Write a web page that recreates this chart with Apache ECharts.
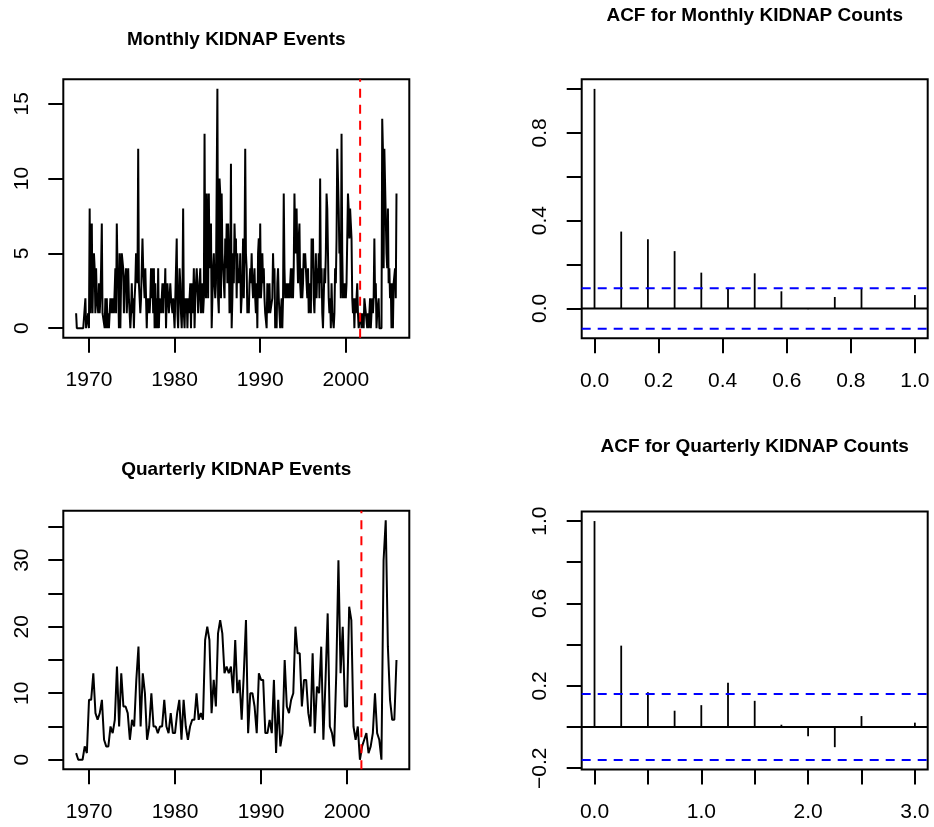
<!DOCTYPE html>
<html><head><meta charset="utf-8">
<script src="https://cdn.jsdelivr.net/npm/echarts@6/dist/echarts.min.js"></script>
<style>html,body{margin:0;padding:0;background:#fff}#c{width:934px;height:827px}</style>
</head><body><div id="c"></div>
<script>
// Monthly KIDNAP counts, Jul 1968 .. Dec 2005 (450 months)
const monthlyCounts = [
1,0,0, 0,0,0, 0,0,0, 0,0,0, 0,2,0, 0,0,1, 0,8,1, 1,7,1, 4,5,4, 1,4,2,
2,1,3, 1,2,4, 7,1,1, 1,0,2, 0,2,0, 1,0,1, 2,1,2, 1,2,1, 1,4,1, 7,4,3,
0,5,0, 3,5,5, 4,1,3, 3,4,1, 1,4,2, 2,0,1, 3,1,2, 0,2,3, 5,4,3, 12,3,2,
1,2,2, 6,4,3, 2,4,4, 0,2,1, 2,1,2, 4,2,4, 1,4,0, 3,0,2, 0,4,0, 2,2,1,
1,3,1, 3,2,4, 0,2,3, 2,1,1, 3,2,2, 1,2,1, 0,2,2, 6,1,0, 2,4,3, 1,0,2,
8,1,0, 2,1,2, 0,2,1, 2,3,0, 3,1,2, 4,0,2, 3,4,3, 1,2,3, 4,1,2, 3,1,2,
13,3,2, 9,9,2, 9,4,5, 7,0,0, 4,5,3, 2,3,3, 16,2,1, 10,9,2, 9,5,5, 5,2,6,
4,7,3, 7,5,1, 3,11,0, 2,5,3, 7,5,6, 2,5,3, 4,3,5, 1,2,3, 6,2,5, 12,5,4,
1,2,1, 3,4,3, 5,3,2, 2,4,2, 1,3,0, 5,6,2, 7,2,3, 5,3,4, 2,1,1, 0,3,1,
2,3,1, 1,1,2, 5,3,4, 0,1,0, 3,4,2, 1,0,1, 2,0,2, 9,4,2, 3,2,3, 2,3,2,
3,4,2, 4,2,4, 9,6,5, 8,5,3, 6,7,3, 2,4,2, 3,5,4, 5,4,3, 2,4,1, 1,3,1,
6,4,6, 2,1,1, 5,2,4, 3,5,2, 10,3,4, 1,0,2, 4,3,5, 9,8,5, 2,1,2, 0,3,1,
1,0,1, 4,3,6, 12,10,8, 5,6,2, 13,5,2, 3,2,3, 2,3,3, 9,8,6, 8,7,6, 2,1,2,
0,2,1, 1,3,1, 0,0,0, 1,0,1, 1,0,2, 2,1,1, 0,1,0, 0,2,0, 1,2,1, 2,6,2,
3,0,1, 1,2,0, 0,0,0, 14,12,4, 12,12,12, 5,4,8, 3,4,2, 3,0,3, 0,3,3, 4,2,9
];
// Quarterly KIDNAP counts, 1968 Q3 .. 2005 Q4 (150 quarters)
const quarterlyCounts = [
1,0,0,0,2,1,9,9,13,7, 6,7,9,3,2,2,5,4,6,14, 5,13,8,8,7,3,6,5,12,17,
5,13,10,3,5,10,5,5,4,5, 5,9,5,4,7,4,4,7,9,3, 9,5,3,5,6,6,10,6,7,6,
18,20,18,7,12,8,19,21,19,13, 14,13,14,10,18,10,12,6,13,21, 4,10,10,8,4,13,12,12,4,4,
6,4,12,1,9,2,4,15,8,7, 9,10,20,16,16,8,12,12,7,5, 16,4,11,10,17,3,12,22,5,4,
2,13,30,13,20,8,8,23,21,5, 3,5,0,2,3,4,1,2,4,10, 4,3,0,30,36,17,9,6,6,15
];
const seriesStart = 1968.5;
const eventYear = 2001.67;
// ACF values (lags 0..12)
const acfMonthly   = [1.0, 0.350, 0.315, 0.261, 0.163, 0.094, 0.160, 0.078, -0.004, 0.052, 0.091, 0.002, 0.061];
const acfQuarterly = [1.0, 0.395, 0.169, 0.079, 0.106, 0.215, 0.127, 0.011, -0.045, -0.098, 0.053, 0.001, 0.021];

const timeTicks = [1970, 1980, 1990, 2000];
const monthlyYTicks = [0, 5, 10, 15];
const quarterlyYTicks = [0, 5, 10, 15, 20, 25, 30, 35];
const quarterlyYLabels = [0, 10, 20, 30];
const acfMXTicks = [0, 0.2, 0.4, 0.6, 0.8, 1.0];
const acfMYTicks = [0, 0.2, 0.4, 0.6, 0.8, 1.0];
const acfMYLabels = [0, 0.4, 0.8];
const acfQXTicks = [0, 0.5, 1, 1.5, 2, 2.5, 3];
const acfQXLabels = [0, 1, 2, 3];
const acfQYTicks = [-0.2, 0, 0.2, 0.4, 0.6, 0.8, 1.0];
const acfQYLabels = [-0.2, 0.2, 0.6, 1.0];

function ext(lo, hi) { const d = (hi - lo) * 0.04; return [lo - d, hi + d]; }
const mPts = monthlyCounts.map((v, i) => [seriesStart + i / 12, v]);
const qPts = quarterlyCounts.map((v, i) => [seriesStart + i / 4, v]);
const mX = ext(mPts[0][0], mPts[mPts.length - 1][0]);
const qX = ext(qPts[0][0], qPts[qPts.length - 1][0]);
const mY = ext(0, Math.max(...monthlyCounts));
const qY = ext(0, Math.max(...quarterlyCounts));
const ciM = 1.96 / Math.sqrt(monthlyCounts.length);
const ciQ = 1.96 / Math.sqrt(quarterlyCounts.length);
const acfMPts = acfMonthly.map((v, k) => [k / 12, v]);
const acfQPts = acfQuarterly.map((v, k) => [k / 4, v]);
const aMX = ext(0, acfMPts[acfMPts.length - 1][0]);
const aQX = ext(0, acfQPts[acfQPts.length - 1][0]);
const aMY = ext(Math.min(-ciM, ...acfMonthly), Math.max(ciM, ...acfMonthly));
const aQY = ext(Math.min(-ciQ, ...acfQuarterly), Math.max(ciQ, ...acfQuarterly));

const FONT = 'Liberation Sans';
const fmt1 = v => { const s = Number(v).toFixed(1); return s.replace('-', '\u2212'); };
const fmt0 = v => String(Math.round(v));

function axis(gi, range, ticks, labels, fmt, isY) {
  return {
    type: 'value', gridIndex: gi, min: range[0], max: range[1],
    axisLine: { show: false, onZero: false },
    splitLine: { show: false },
    axisTick: { show: true, inside: false, length: 15, lineStyle: { color: '#000', width: 2 }, customValues: ticks },
    axisLabel: { customValues: labels, formatter: fmt, fontSize: 21, fontFamily: FONT, color: '#000',
      margin: isY ? 31 : 32, rotate: isY ? 90 : 0 }
  };
}
const gridBase = { show: true, borderColor: '#000', borderWidth: 2, backgroundColor: 'transparent', containLabel: false };
const spike = (params, api) => {
  const x = api.value(0), v = api.value(1);
  const p0 = api.coord([x, 0]), p1 = api.coord([x, v]);
  return { type: 'line', shape: { x1: p0[0], y1: p0[1], x2: p1[0], y2: p1[1] }, style: { stroke: '#000', lineWidth: 1.8 } };
};
const hline = (xi, yi, xr, y, color, dashed) => ({
  type: 'line', xAxisIndex: xi, yAxisIndex: yi, data: [[xr[0], y], [xr[1], y]],
  showSymbol: false, symbol: 'none', silent: true,
  lineStyle: { color: color, width: 2, type: dashed ? [9, 7] : 'solid' }
});
const vline = (xi, yi, x, yr) => ({
  type: 'line', xAxisIndex: xi, yAxisIndex: yi, data: [[x, yr[0]], [x, yr[1]]],
  showSymbol: false, symbol: 'none', silent: true,
  lineStyle: { color: '#ff0000', width: 2, type: [9, 7] }
});

const chart = echarts.init(document.getElementById('c'), null, { renderer: 'canvas' });
chart.setOption({
  animation: false,
  backgroundColor: '#fff',
  textStyle: { fontFamily: FONT },
  grid: [
    Object.assign({ left: 63.3, top: 79.3, width: 346, height: 258.4 }, gridBase),
    Object.assign({ left: 581.7, top: 79.3, width: 346, height: 259 }, gridBase),
    Object.assign({ left: 63.3, top: 510.7, width: 346, height: 258.6 }, gridBase),
    Object.assign({ left: 581.7, top: 511.5, width: 346, height: 258 }, gridBase)
  ],
  xAxis: [
    axis(0, mX, timeTicks, timeTicks, fmt0, false),
    axis(1, aMX, acfMXTicks, acfMXTicks, fmt1, false),
    axis(2, qX, timeTicks, timeTicks, fmt0, false),
    axis(3, aQX, acfQXTicks, acfQXLabels, fmt1, false)
  ],
  yAxis: [
    axis(0, mY, monthlyYTicks, monthlyYTicks, fmt0, true),
    axis(1, aMY, acfMYTicks, acfMYLabels, fmt1, true),
    axis(2, qY, quarterlyYTicks, quarterlyYLabels, fmt0, true),
    axis(3, aQY, acfQYTicks, acfQYLabels, fmt1, true)
  ],
  graphic: [
    { type: 'text', x: 236.3, y: 40, style: { text: 'Monthly KIDNAP Events', font: 'bold 19px "Liberation Sans"', fill: '#000', align: 'center', verticalAlign: 'middle' } },
    { type: 'text', x: 754.7, y: 16, style: { text: 'ACF for Monthly KIDNAP Counts', font: 'bold 19px "Liberation Sans"', fill: '#000', align: 'center', verticalAlign: 'middle' } },
    { type: 'text', x: 236.3, y: 470, style: { text: 'Quarterly KIDNAP Events', font: 'bold 19px "Liberation Sans"', fill: '#000', align: 'center', verticalAlign: 'middle' } },
    { type: 'text', x: 754.7, y: 447, style: { text: 'ACF for Quarterly KIDNAP Counts', font: 'bold 19px "Liberation Sans"', fill: '#000', align: 'center', verticalAlign: 'middle' } }
  ],
  series: [
    { type: 'line', xAxisIndex: 0, yAxisIndex: 0, data: mPts, showSymbol: false, symbol: 'none', lineStyle: { color: '#000', width: 2 } },
    vline(0, 0, eventYear, mY),
    { type: 'custom', xAxisIndex: 1, yAxisIndex: 1, data: acfMPts, renderItem: spike },
    hline(1, 1, aMX, 0, '#000', false),
    hline(1, 1, aMX, ciM, '#0000ff', true),
    hline(1, 1, aMX, -ciM, '#0000ff', true),
    { type: 'line', xAxisIndex: 2, yAxisIndex: 2, data: qPts, showSymbol: false, symbol: 'none', lineStyle: { color: '#000', width: 2 } },
    vline(2, 2, eventYear, qY),
    { type: 'custom', xAxisIndex: 3, yAxisIndex: 3, data: acfQPts, renderItem: spike },
    hline(3, 3, aQX, 0, '#000', false),
    hline(3, 3, aQX, ciQ, '#0000ff', true),
    hline(3, 3, aQX, -ciQ, '#0000ff', true)
  ]
});
</script></body></html>
